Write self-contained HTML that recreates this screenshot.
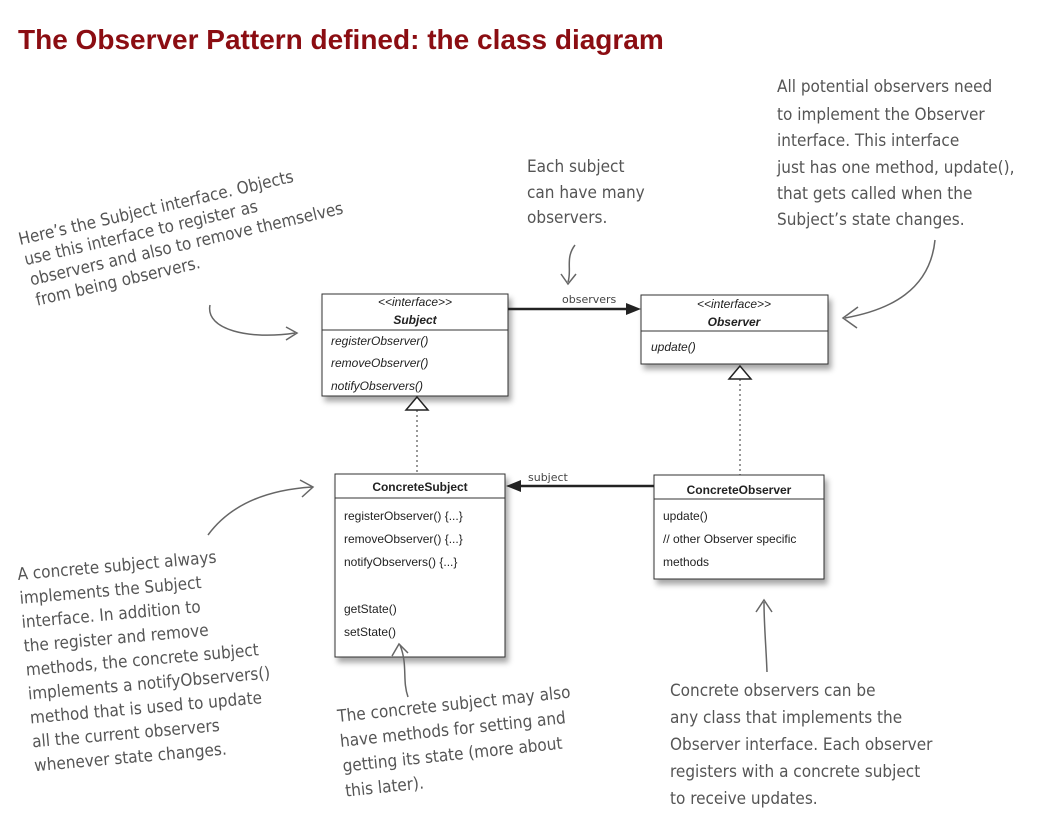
<!DOCTYPE html>
<html><head><meta charset="utf-8"><style>
html,body{margin:0;padding:0;background:#fff;}
svg{display:block}
.h{font-family:"DejaVu Sans Condensed","DejaVu Sans",sans-serif;fill:#555;font-size:17px;}
.u{font-family:"Liberation Sans",Arial,sans-serif;fill:#222;font-size:12px;}
</style></head><body>
<svg width="1056" height="824" viewBox="0 0 1056 824" xmlns="http://www.w3.org/2000/svg">
<defs>
<filter id="sh" x="-10%" y="-10%" width="130%" height="140%"><feDropShadow dx="3" dy="5" stdDeviation="3" flood-color="#000" flood-opacity="0.35"/></filter>
</defs>
<text x="18" y="49" font-family="Liberation Sans,sans-serif" font-weight="bold" font-size="28" fill="#8b0d12">The Observer Pattern defined: the class diagram</text>

<!-- Subject -->
<g filter="url(#sh)"><rect x="322" y="294" width="186" height="102" fill="#fff" stroke="#333"/></g>
<line x1="322" y1="330" x2="508" y2="330" stroke="#333"/>
<text class="u" x="415" y="306" text-anchor="middle" font-style="italic" font-size="10.5">&lt;&lt;interface&gt;&gt;</text>
<text class="u" x="415" y="324" text-anchor="middle" font-style="italic" font-weight="bold" font-size="13.5">Subject</text>
<text class="u" x="331" y="345" font-style="italic" font-size="11.5">registerObserver()</text>
<text class="u" x="331" y="367" font-style="italic" font-size="11.5">removeObserver()</text>
<text class="u" x="331" y="390" font-style="italic" font-size="11.5">notifyObservers()</text>

<!-- Observer -->
<g filter="url(#sh)"><rect x="641" y="295" width="187" height="69" fill="#fff" stroke="#333"/></g>
<line x1="641" y1="331" x2="828" y2="331" stroke="#333"/>
<text class="u" x="734" y="308" text-anchor="middle" font-style="italic" font-size="10.5">&lt;&lt;interface&gt;&gt;</text>
<text class="u" x="734" y="326" text-anchor="middle" font-style="italic" font-weight="bold" font-size="13.5">Observer</text>
<text class="u" x="651" y="351" font-style="italic" font-size="11.5">update()</text>

<!-- observers arrow -->
<line x1="508" y1="309" x2="628" y2="309" stroke="#222" stroke-width="2.5"/>
<polygon points="641,309 626,303 626,315" fill="#222"/>
<text x="562" y="303" font-family="DejaVu Sans,sans-serif" font-size="11" fill="#444">observers</text>

<!-- ConcreteSubject -->
<g filter="url(#sh)"><rect x="335" y="474" width="170" height="183" fill="#fff" stroke="#333"/></g>
<line x1="335" y1="498" x2="505" y2="498" stroke="#333"/>
<text class="u" x="420" y="491" text-anchor="middle" font-weight="bold" font-size="13">ConcreteSubject</text>
<text class="u" x="344" y="520" font-size="11.5">registerObserver() {...}</text>
<text class="u" x="344" y="543" font-size="11.5">removeObserver() {...}</text>
<text class="u" x="344" y="566" font-size="11.5">notifyObservers() {...}</text>
<text class="u" x="344" y="613" font-size="11.5">getState()</text>
<text class="u" x="344" y="636" font-size="11.5">setState()</text>

<!-- ConcreteObserver -->
<g filter="url(#sh)"><rect x="654" y="475" width="170" height="104" fill="#fff" stroke="#333"/></g>
<line x1="654" y1="499" x2="824" y2="499" stroke="#333"/>
<text class="u" x="739" y="494" text-anchor="middle" font-weight="bold" font-size="13">ConcreteObserver</text>
<text class="u" x="663" y="520" font-size="11.5">update()</text>
<text class="u" x="663" y="543" font-size="11.5">// other Observer specific</text>
<text class="u" x="663" y="566" font-size="11.5">methods</text>

<!-- subject arrow -->
<line x1="654" y1="486" x2="520" y2="486" stroke="#222" stroke-width="2.5"/>
<polygon points="506,486 521,480 521,492" fill="#222"/>
<text x="528" y="481" font-family="DejaVu Sans,sans-serif" font-size="11" fill="#444">subject</text>

<!-- realization -->
<line x1="417" y1="410" x2="417" y2="474" stroke="#333" stroke-dasharray="2,3"/>
<polygon points="417,397 406,410 428,410" fill="#fff" stroke="#222" stroke-width="1.5"/>
<line x1="740" y1="379" x2="740" y2="475" stroke="#333" stroke-dasharray="2,3"/>
<polygon points="740,366 729,379 751,379" fill="#fff" stroke="#222" stroke-width="1.5"/>

<!-- handwritten annotations -->
<g transform="rotate(-13 20 245)">
<text class="h" x="20" y="245">Here’s the Subject interface. Objects</text>
<text class="h" x="21" y="266">use this interface to register as</text>
<text class="h" x="22" y="287">observers and also to remove themselves</text>
<text class="h" x="23" y="308">from being observers.</text>
</g>
<path d="M210,305 C205,330 250,340 295,333" fill="none" stroke="#666" stroke-width="1.5"/>
<path d="M286,327 L297,333 L286,340" fill="none" stroke="#666" stroke-width="1.5"/>

<text class="h" x="527" y="172">Each subject</text>
<text class="h" x="527" y="198">can have many</text>
<text class="h" x="527" y="223">observers.</text>
<path d="M575,245 C565,258 572,270 568,282" fill="none" stroke="#666" stroke-width="1.5"/>
<path d="M561,274 L568,284 L576,274" fill="none" stroke="#666" stroke-width="1.5"/>

<text class="h" x="777" y="92">All potential observers need</text>
<text class="h" x="777" y="120">to implement the Observer</text>
<text class="h" x="777" y="146">interface.  This interface</text>
<text class="h" x="777" y="173">just has one method, update(),</text>
<text class="h" x="777" y="199">that gets called when the</text>
<text class="h" x="777" y="225">Subject’s state changes.</text>
<path d="M935,240 C930,290 890,310 845,318" fill="none" stroke="#666" stroke-width="1.5"/>
<path d="M858,307 L843,318 L857,328" fill="none" stroke="#666" stroke-width="1.5"/>

<g transform="rotate(-5 18 580)">
<text class="h" x="18" y="580">A concrete subject always</text>
<text class="h" x="18" y="604">implements the Subject</text>
<text class="h" x="18" y="628">interface.  In addition to</text>
<text class="h" x="18" y="652">the register and remove</text>
<text class="h" x="18" y="676">methods, the concrete subject</text>
<text class="h" x="18" y="700">implements a notifyObservers()</text>
<text class="h" x="18" y="724">method that is used to update</text>
<text class="h" x="18" y="748">all the current observers</text>
<text class="h" x="18" y="772">whenever state changes.</text>
</g>
<path d="M208,535 C230,505 265,490 312,487" fill="none" stroke="#666" stroke-width="1.5"/>
<path d="M300,480 L313,487 L302,497" fill="none" stroke="#666" stroke-width="1.5"/>

<g transform="rotate(-6 338 722)">
<text class="h" x="338" y="722">The concrete subject may also</text>
<text class="h" x="338" y="747">have methods for setting and</text>
<text class="h" x="338" y="772">getting its state (more about</text>
<text class="h" x="338" y="797">this later).</text>
</g>
<path d="M408,697 C402,680 408,665 400,645" fill="none" stroke="#666" stroke-width="1.5"/>
<path d="M392,656 L399,644 L408,653" fill="none" stroke="#666" stroke-width="1.5"/>

<text class="h" x="670" y="696">Concrete observers can be</text>
<text class="h" x="670" y="723">any class that implements the</text>
<text class="h" x="670" y="750">Observer interface.  Each observer</text>
<text class="h" x="670" y="777">registers with a concrete subject</text>
<text class="h" x="670" y="804">to receive updates.</text>
<path d="M767,672 C766,645 764,625 764,602" fill="none" stroke="#666" stroke-width="1.5"/>
<path d="M756,612 L764,600 L772,612" fill="none" stroke="#666" stroke-width="1.5"/>
</svg>
</body></html>
